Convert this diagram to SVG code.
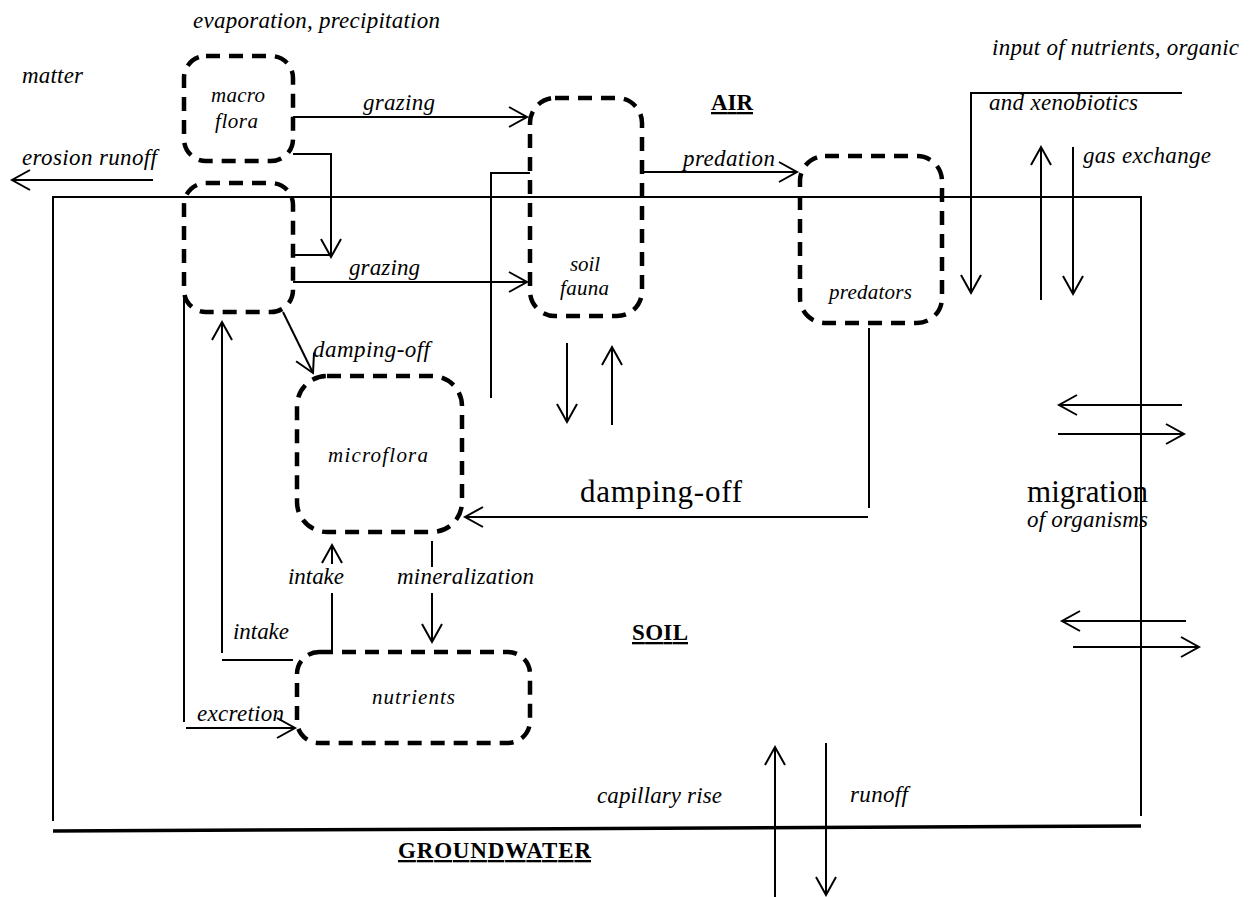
<svg xmlns="http://www.w3.org/2000/svg" width="1250" height="897" viewBox="0 0 1250 897">
<style>
  text { font-family: "Liberation Serif", "Times New Roman", serif; fill: #000; }
  .lbl { font-style: italic; font-size: 23px; }
  .node-t { font-style: italic; font-size: 21px; }
  .big { font-size: 31px; }
  .zone { font-weight: bold; font-size: 23px; text-decoration: underline; }
  .box { fill: none; stroke: #000; stroke-width: 4.5; stroke-dasharray: 14 9; }
  .ln { fill: none; stroke: #000; stroke-width: 2; }
  .arr { fill: none; stroke: #000; stroke-width: 2; marker-end: url(#ah); }
  .bnd { fill: none; stroke: #000; stroke-width: 2; }
</style>
<defs>
  <marker id="ah" markerUnits="userSpaceOnUse" markerWidth="24" markerHeight="24" refX="18" refY="10" orient="auto" overflow="visible">
    <path d="M0,0 L18,10 L0,20" fill="none" stroke="#000" stroke-width="2"/>
  </marker>
</defs>
<rect width="1250" height="897" fill="#fff"/>

<g id="boundaries">
  <polyline class="bnd" points="53,821 53,197 1141,197 1141,816"/>
  <line x1="53" y1="831" x2="1141" y2="826" stroke="#000" stroke-width="3.5"/>
</g>

<g id="node-macroflora">
  <rect class="box" x="184" y="56" width="109" height="105" rx="22"/>
  <text class="node-t" x="211" y="102" textLength="54">macro</text>
  <text class="node-t" x="215" y="128" textLength="43">flora</text>
</g>
<g id="node-plants">
  <rect class="box" x="184" y="183" width="109" height="129" rx="22"/>
</g>
<g id="node-soilfauna">
  <rect class="box" x="530" y="98" width="112" height="218" rx="25"/>
  <text class="node-t" x="570" y="271" textLength="30">soil</text>
  <text class="node-t" x="560" y="295" textLength="49">fauna</text>
</g>
<g id="node-predators">
  <rect class="box" x="800" y="156" width="142" height="167" rx="25"/>
  <text class="node-t" x="829" y="299" textLength="83">predators</text>
</g>
<g id="node-microflora">
  <rect class="box" x="297" y="376" width="165" height="156" rx="30"/>
  <text class="node-t" x="328" y="462" textLength="100">microflora</text>
</g>
<g id="node-nutrients">
  <rect class="box" x="297" y="652" width="233" height="91" rx="22"/>
  <text class="node-t" x="372" y="704" textLength="83">nutrients</text>
</g>

<g id="connectors">
  <line class="arr" x1="293" y1="117" x2="527" y2="117"/>
  <polyline class="arr" points="293,154 331,154 331,257"/>
  <line class="ln" x1="293" y1="255" x2="331" y2="255"/>
  <line class="arr" x1="293" y1="282" x2="527" y2="282"/>
  <polyline class="ln" points="491,398 491,173 530,173"/>
  <line class="arr" x1="642" y1="172" x2="797" y2="172"/>
  <line class="arr" x1="567" y1="343" x2="567" y2="422"/>
  <line class="arr" x1="612" y1="425" x2="612" y2="347"/>
  <polyline class="arr" points="1182,93 971,93 971,293"/>
  <line class="arr" x1="1041" y1="300" x2="1041" y2="147"/>
  <line class="arr" x1="1073" y1="147" x2="1073" y2="294"/>
  <line class="ln" x1="869" y1="328" x2="869" y2="508"/>
  <line class="arr" x1="868" y1="517" x2="465" y2="517"/>
  <line class="arr" x1="1182" y1="405" x2="1059" y2="405"/>
  <line class="arr" x1="1058" y1="434" x2="1184" y2="434"/>
  <line class="arr" x1="1186" y1="621" x2="1062" y2="621"/>
  <line class="arr" x1="1073" y1="647" x2="1199" y2="647"/>
  <line class="arr" x1="283" y1="312" x2="313" y2="373"/>
  <line class="arr" x1="222" y1="653" x2="222" y2="322"/>
  <line class="ln" x1="222" y1="660" x2="293" y2="660"/>
  <line class="ln" x1="332" y1="651" x2="332" y2="593"/>
  <line class="arr" x1="332" y1="564" x2="332" y2="545"/>
  <line class="ln" x1="432" y1="541" x2="432" y2="567"/>
  <line class="arr" x1="432" y1="593" x2="432" y2="642"/>
  <line class="ln" x1="184" y1="295" x2="184" y2="722"/>
  <line class="arr" x1="186" y1="728" x2="295" y2="728"/>
  <line class="arr" x1="153" y1="180" x2="12" y2="180"/>
  <line class="arr" x1="775" y1="897" x2="775" y2="747"/>
  <line class="arr" x1="826" y1="743" x2="826" y2="895"/>
</g>

<g id="labels">
  <text class="lbl" x="193" y="28" textLength="247">evaporation, precipitation</text>
  <text class="lbl" x="22" y="83" textLength="61">matter</text>
  <text class="lbl" x="22" y="165" textLength="135">erosion runoff</text>
  <text class="lbl" x="363" y="110" textLength="72">grazing</text>
  <text class="lbl" x="349" y="275" textLength="71">grazing</text>
  <text class="lbl" x="683" y="166" textLength="92">predation</text>
  <text class="lbl" x="992" y="55" textLength="247">input of nutrients, organic</text>
  <text class="lbl" x="989" y="110" textLength="149">and xenobiotics</text>
  <text class="lbl" x="1083" y="163" textLength="128">gas exchange</text>
  <text class="lbl" x="313" y="357" textLength="117">damping-off</text>
  <text class="lbl" x="288" y="584" textLength="56">intake</text>
  <text class="lbl" x="397" y="584" textLength="137">mineralization</text>
  <text class="lbl" x="233" y="639" textLength="56">intake</text>
  <text class="lbl" x="197" y="721" textLength="87">excretion</text>
  <text class="lbl" x="597" y="803" textLength="125">capillary rise</text>
  <text class="lbl" x="850" y="802" textLength="58">runoff</text>
  <text class="big" x="580" y="502" textLength="162">damping-off</text>
  <text class="big" x="1027" y="502" textLength="121">migration</text>
  <text class="lbl" x="1027" y="527" textLength="121">of organisms</text>
  <text class="zone" x="711" y="110" textLength="42">AIR</text>
  <text class="zone" x="632" y="640" textLength="56">SOIL</text>
  <text class="zone" x="398" y="858" textLength="193">GROUNDWATER</text>
</g>
</svg>
